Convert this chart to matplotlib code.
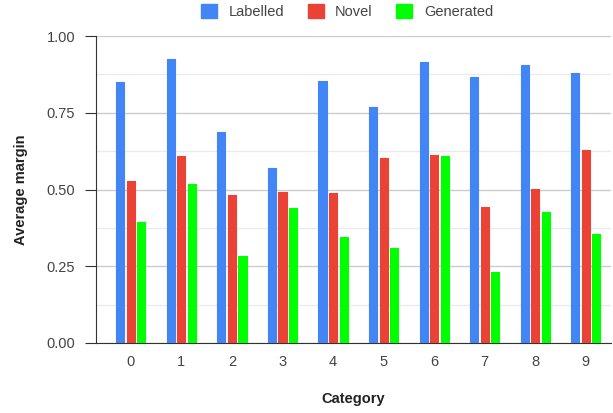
import matplotlib
matplotlib.use("Agg")
import matplotlib.pyplot as plt
from matplotlib.patches import Patch
from matplotlib.ticker import MultipleLocator
import numpy as np

plt.rcParams['font.family'] = ['Liberation Sans', 'DejaVu Sans']

categories = ['0', '1', '2', '3', '4', '5', '6', '7', '8', '9']
labelled = [0.849, 0.924, 0.688, 0.569, 0.853, 0.769, 0.916, 0.866, 0.905, 0.878]
novel = [0.528, 0.609, 0.481, 0.493, 0.490, 0.604, 0.612, 0.443, 0.502, 0.629]
generated = [0.395, 0.519, 0.282, 0.439, 0.344, 0.310, 0.609, 0.230, 0.427, 0.354]
series_names = ['Labelled', 'Novel', 'Generated']
colors = ['#4285F4', '#EA4335', '#00FF00']

W, H = 613, 413
fig = plt.figure(figsize=(W / 100, H / 100), dpi=100)
ax = fig.add_axes([96 / W, 1 - 343 / H, (611 - 96) / W, (343 - 36) / H])

x = np.arange(len(categories))
bw = 0.16
off = 0.208
for i, (vals, c) in enumerate(zip([labelled, novel, generated], colors)):
    ax.bar(x + (i - 1) * off, vals, width=bw, color=c, edgecolor=c, linewidth=0.8,
           joinstyle='round', zorder=3)

ax.set_xlim(-0.69, 9.5)
ax.set_ylim(0, 1.0)
ax.set_xticks(x)
ax.set_xticklabels(categories)
ax.yaxis.set_major_locator(MultipleLocator(0.25))
ax.yaxis.set_minor_locator(MultipleLocator(0.125))
ax.set_yticklabels([f'{v:.2f}' for v in ax.get_yticks()])
ax.grid(axis='y', which='major', color='#cccccc', linewidth=1, zorder=0)
ax.grid(axis='y', which='minor', color='#ebebeb', linewidth=1, zorder=0)
ax.set_axisbelow(True)

for s in ['top', 'right']:
    ax.spines[s].set_visible(False)
ax.spines['left'].set_color('#333333')
ax.spines['bottom'].set_color('#333333')
ax.tick_params(axis='y', which='major', length=8, direction='out', color='#333333',
               labelsize=10.5, labelcolor='#444444', pad=7)
ax.tick_params(axis='y', which='minor', length=0)
ax.tick_params(axis='x', length=0, labelsize=10.5, labelcolor='#444444', pad=9)

ax.set_ylabel('Average margin', fontsize=10.5, fontweight='bold', color='#222222', labelpad=13)
ax.set_xlabel('Category', fontsize=10.5, fontweight='bold', color='#222222', labelpad=16)

handles = [Patch(facecolor=c, edgecolor=c) for c in colors]
fig.legend(handles, series_names, loc='upper center', bbox_to_anchor=(347 / W, 1.022),
           ncol=3, frameon=False, fontsize=10.5, handlelength=1.1, handleheight=1.1,
           columnspacing=1.6, handletextpad=0.8, labelcolor='#444444')

fig.savefig('out.png', dpi=100)
